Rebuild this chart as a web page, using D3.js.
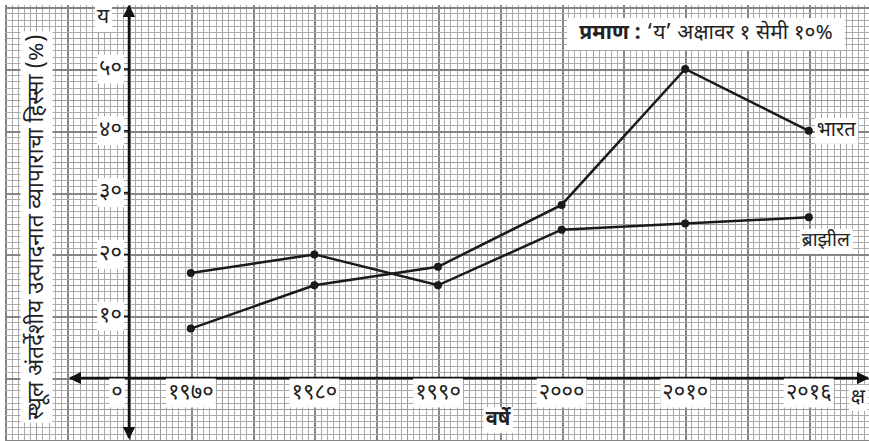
<!DOCTYPE html>
<html>
<head>
<meta charset="utf-8">
<script src="https://d3js.org/d3.v7.min.js"></script>
<style>
  body { margin: 0; background: #fff; }
  text { font-family: "Noto Sans Devanagari", "Lohit Devanagari", "Noto Sans", "DejaVu Sans", sans-serif; fill: #222; }
</style>
</head>
<body>
<script>
// data
const years = ["१९७०", "१९८०", "१९९०", "२०००", "२०१०", "२०१६"];
const india = [8, 15, 18, 28, 50, 40];
const brazil = [17, 20, 15, 24, 25, 26];
const yTicks = [10, 20, 30, 40, 50];
const yTickLabels = ["१०", "२०", "३०", "४०", "५०"];

const W = 869, H = 441;
const ox = 129, oy = 378, cm = 61.8, mm = cm / 10;

const svg = d3.select("body").append("svg")
  .attr("width", W).attr("height", H);

const x = d3.scalePoint().domain(years).range([ox, ox + cm * 12]).padding(0.5);
const y = d3.scaleLinear().domain([0, 50]).range([oy, oy - cm * 5]);

// graph paper
const grid = svg.append("g").attr("shape-rendering", "crispEdges");
function gridStroke(k) {
  return k % 10 === 0 ? ["#858585", 2] : k % 5 === 0 ? ["#9a9a9a", 1] : ["#ababab", 1];
}
for (let k = -20; k < 120; k++) {
  const gx = Math.round(ox + k * mm) + 0.5;
  if (gx < 5 || gx > W) continue;
  const [c, w] = gridStroke(k);
  grid.append("line").attr("x1", gx).attr("x2", gx).attr("y1", 5).attr("y2", H)
    .attr("stroke", c).attr("stroke-width", w);
}
for (let k = -20; k < 70; k++) {
  const gy = Math.round(oy - k * mm) + 0.5;
  if (gy < 5 || gy > H) continue;
  const [c, w] = gridStroke(k);
  grid.append("line").attr("y1", gy).attr("y2", gy).attr("x1", 5).attr("x2", W)
    .attr("stroke", c).attr("stroke-width", w);
}

// white-backed label helper
function label(tx, ty, str, opts = {}) {
  const g = svg.append("g").attr("transform", `translate(${tx},${ty})` + (opts.rotate ? ` rotate(${opts.rotate})` : ""));
  const t = g.append("text").text(str)
    .attr("text-anchor", opts.anchor || "middle")
    .attr("dominant-baseline", "central")
    .attr("font-size", opts.size || 14)
    .attr("font-weight", opts.weight || "normal");
  const b = t.node().getBBox();
  const p = opts.pad || 2;
  g.insert("rect", "text")
    .attr("x", b.x - p).attr("y", b.y - p + 2)
    .attr("width", b.width + 2 * p).attr("height", b.height + 2 * p - 4)
    .attr("fill", "#fff");
  return t;
}

// axes
svg.append("defs").append("marker")
  .attr("id", "arr").attr("viewBox", "0 0 10 10").attr("refX", 9).attr("refY", 5)
  .attr("markerWidth", 5).attr("markerHeight", 5).attr("orient", "auto-start-reverse")
  .append("path").attr("d", "M0,0 L10,5 L0,10 Z").attr("fill", "#111");

svg.append("line").attr("x1", 70).attr("x2", 868).attr("y1", oy).attr("y2", oy)
  .attr("stroke", "#111").attr("stroke-width", 2.5)
  .attr("marker-start", "url(#arr)").attr("marker-end", "url(#arr)");
svg.append("line").attr("x1", ox).attr("x2", ox).attr("y1", 438).attr("y2", 6)
  .attr("stroke", "#111").attr("stroke-width", 2.5)
  .attr("marker-start", "url(#arr)").attr("marker-end", "url(#arr)");

// y ticks
yTicks.forEach((v, i) => {
  svg.append("line").attr("x1", ox - 5).attr("x2", ox).attr("y1", y(v)).attr("y2", y(v))
    .attr("stroke", "#111").attr("stroke-width", 1.5);
  label(ox - 7, y(v), yTickLabels[i], { anchor: "end", size: 22 });
});
label(117, 393, "०", { size: 22 });

// x tick labels
years.forEach(yr => label(x(yr), 393, yr, { size: 22 }));

// axis names
label(103, 18, "य", { size: 21 });
label(858, 398, "क्ष", { size: 20 });
label(498, 420, "वर्षे", { size: 20, weight: "bold" });
label(37, 227, "स्थूल अंतर्देशीय उत्पादनात व्यापाराचा हिस्सा (%)", { size: 22.5, rotate: -90, pad: 3 });

// scale note
const note = label(706, 34, "", { size: 21 });
note.append("tspan").attr("font-weight", "bold").text("प्रमाण : ");
note.append("tspan").text("‘य’ अक्षावर १ सेमी १०%");
{
  const g = d3.select(note.node().parentNode);
  const b = note.node().getBBox();
  g.select("rect").attr("x", b.x - 12).attr("y", b.y - 2).attr("width", b.width + 24).attr("height", b.height + 4);
}

// series
const line = d3.line().x((d, i) => x(years[i])).y(d => y(d));
[india, brazil].forEach(s => {
  svg.append("path").datum(s).attr("d", line)
    .attr("fill", "none").attr("stroke", "#1a1a1a").attr("stroke-width", 2.5);
  svg.append("g").selectAll("circle").data(s).join("circle")
    .attr("cx", (d, i) => x(years[i])).attr("cy", d => y(d)).attr("r", 4)
    .attr("fill", "#1a1a1a");
});

label(x(years[5]) + 8, y(india[5]), "भारत", { anchor: "start", size: 20 });
label(x(years[5]) + 17, y(brazil[5]) + 24, "ब्राझील", { size: 19 });
</script>
</body>
</html>
